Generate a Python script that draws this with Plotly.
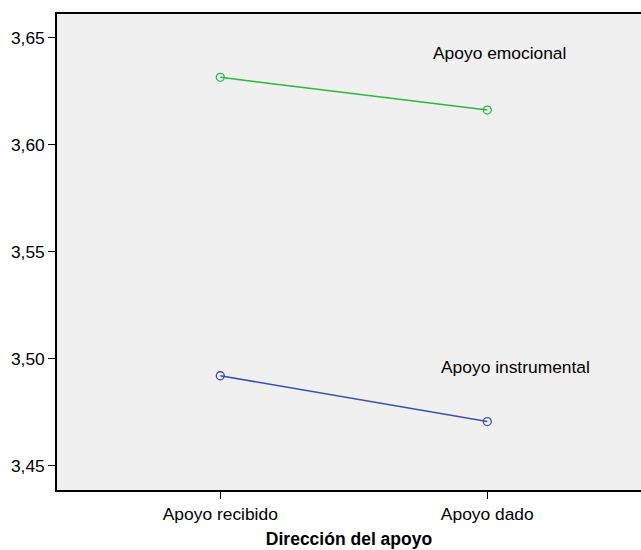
import plotly.graph_objects as go

# Datos
direccion = ['Apoyo recibido', 'Apoyo dado']
emocional = [3.6315, 3.6162]
instrumental = [3.4920, 3.4706]
etiquetas = ['Apoyo emocional', 'Apoyo instrumental']
ticks_y = [3.45, 3.50, 3.55, 3.60, 3.65]
ticks_y_txt = ['3,45', '3,50', '3,55', '3,60', '3,65']

verde = '#24bd3a'
azul = '#3a4fbb'
fuente = 'Liberation Sans, Arial, sans-serif'

fig = go.Figure()

fig.add_trace(go.Scatter(
    x=direccion, y=emocional, mode='lines+markers',
    line=dict(color=verde, width=1.5),
    marker=dict(symbol='circle-open', size=8, color=verde, line=dict(width=1.3)),
    showlegend=False, name=etiquetas[0]
))
fig.add_trace(go.Scatter(
    x=direccion, y=instrumental, mode='lines+markers',
    line=dict(color=azul, width=1.5),
    marker=dict(symbol='circle-open', size=8, color=azul, line=dict(width=1.3)),
    showlegend=False, name=etiquetas[1]
))

# Etiquetas de las series dentro del area
fig.add_annotation(x=1.047, y=3.6429, xref='x', yref='y', text=etiquetas[0],
                   showarrow=False, font=dict(size=17.4, color='black', family=fuente))
fig.add_annotation(x=1.105, y=3.4961, xref='x', yref='y', text=etiquetas[1],
                   showarrow=False, font=dict(size=17.4, color='black', family=fuente))

fig.update_xaxes(
    type='category', range=[-0.6116, 1.5757],
    showline=True, linecolor='black', linewidth=1.5, mirror=True,
    ticks='outside', ticklen=7, tickcolor='black', tickwidth=1.2,
    showgrid=False, zeroline=False,
    tickfont=dict(size=17.4, color='black', family=fuente),
    title=dict(text='<b>Dirección del apoyo</b>', standoff=10,
               font=dict(size=17.5, color='black', family=fuente))
)
fig.update_yaxes(
    range=[3.4386, 3.6611],
    tickvals=ticks_y, ticktext=ticks_y_txt,
    showline=True, linecolor='black', linewidth=1.5,
    ticks='outside', ticklen=7, tickcolor='black', tickwidth=1.2,
    showgrid=False, zeroline=False,
    tickfont=dict(size=17.4, color='black', family=fuente)
)

fig.update_layout(
    width=641, height=550,
    margin=dict(l=57, r=0, t=14, b=60),
    plot_bgcolor='#f0f0f0', paper_bgcolor='white',
    font=dict(family=fuente, color='black'),
)

# quitamos el margen del body para que la figura ocupe la ventana
fig.write_html('out.html', config={'displayModeBar': False},
               post_script="document.body.style.margin='0';")
